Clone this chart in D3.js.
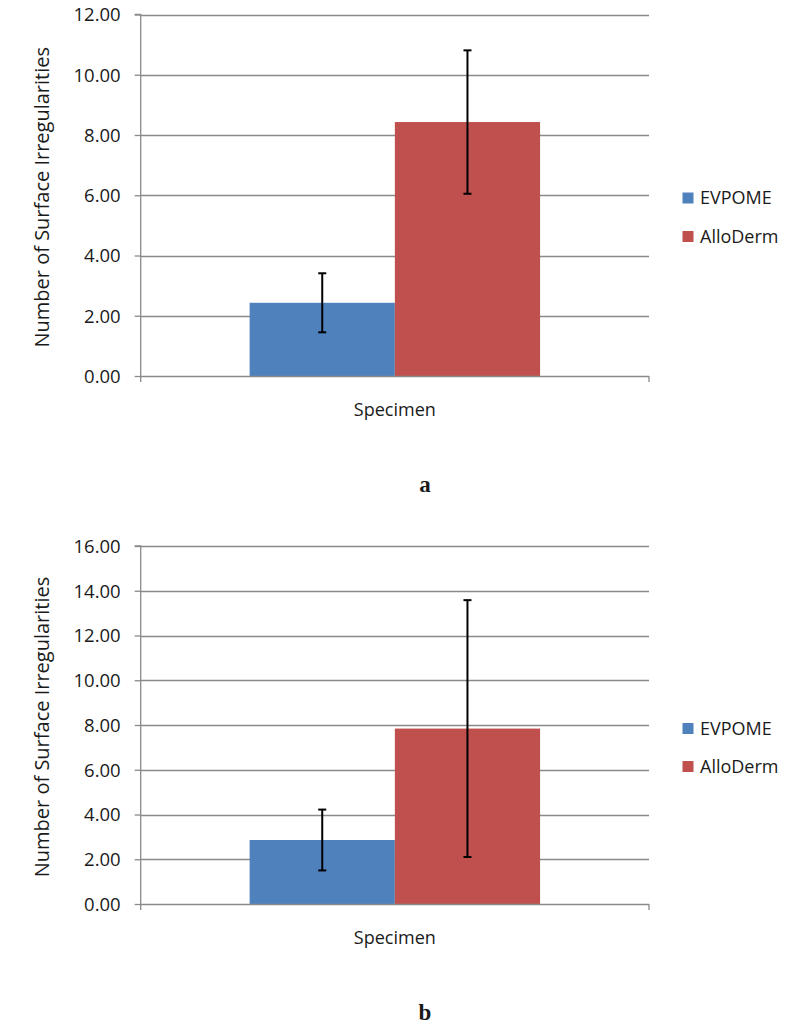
<!DOCTYPE html>
<html>
<head>
<meta charset="utf-8">
<script src="https://cdn.jsdelivr.net/npm/d3@7/dist/d3.min.js"></script>
<style>
  html, body { margin: 0; padding: 0; background: #fff; }
  svg { display: block; }
  text { font-family: "Open Sans", "Noto Sans", sans-serif; fill: #1a1a1a; }
</style>
</head>
<body>
<svg id="chart" width="787" height="1026"></svg>
<script>
// ---- data ----
const categories = ["Specimen"];
const seriesNames = ["EVPOME", "AlloDerm"];
const seriesColors = ["#4F81BD", "#C0504D"];

const panelAMeans = [2.43, 8.43];
const panelASD = [0.98, 2.38];
const panelATicks = [0, 2, 4, 6, 8, 10, 12];

const panelBMeans = [2.86, 7.84];
const panelBSD = [1.36, 5.74];
const panelBTicks = [0, 2, 4, 6, 8, 10, 12, 14, 16];

const yTitle = "Number of Surface Irregularities";
const panelLetters = ["a", "b"];

// ---- layout ----
const panels = [
  { means: panelAMeans, sd: panelASD, ticks: panelATicks, top: 14.5, bottom: 376,
    legendY: [198, 236.5], letterY: 491.5, letter: panelLetters[0] },
  { means: panelBMeans, sd: panelBSD, ticks: panelBTicks, top: 546, bottom: 904,
    legendY: [728.5, 766.5], letterY: 1019.5, letter: panelLetters[1] }
];
const left = 140.7, right = 649;
const gridColor = "#8a8a8a";

const svg = d3.select("#chart");

panels.forEach(p => {
  const g = svg.append("g");
  const maxV = p.ticks[p.ticks.length - 1];
  const y = d3.scaleLinear().domain([0, maxV]).range([p.bottom, p.top]);
  const x0 = d3.scaleBand().domain(categories).range([left, right]).padding(0);
  const x1 = d3.scaleBand().domain(seriesNames).range([0, x0.bandwidth()])
    .paddingInner(0).paddingOuter(0.75);

  // gridlines
  g.append("g").selectAll("line").data(p.ticks.filter(t => t > 0)).join("line")
    .attr("x1", left).attr("x2", right)
    .attr("y1", d => Math.round(y(d)) + 0.5).attr("y2", d => Math.round(y(d)) + 0.5)
    .attr("stroke", gridColor).attr("stroke-width", 1.3);

  // y axis
  const yAxis = d3.axisLeft(y).tickValues(p.ticks).tickFormat(d3.format(".2f"))
    .tickSize(6).tickPadding(14);
  const ya = g.append("g").attr("transform", `translate(${left},0)`).call(yAxis);
  ya.select(".domain").attr("stroke", gridColor).attr("stroke-width", 1.3)
    .attr("d", `M-6,${p.top}H0V${p.bottom + 6}`);
  ya.selectAll(".tick line").attr("stroke", gridColor).attr("stroke-width", 1.3);
  ya.selectAll(".tick text").style("font-family", '"Open Sans", sans-serif')
    .style("font-size", "18.5px").attr("fill", "#222").attr("dy", "0.34em");

  // bars
  const bars = g.append("g").selectAll("g").data(categories).join("g")
    .attr("transform", d => `translate(${x0(d)},0)`);
  bars.selectAll("rect").data(seriesNames.map((s, i) => ({ s, v: p.means[i], c: seriesColors[i] })))
    .join("rect")
    .attr("x", d => x1(d.s)).attr("width", x1.bandwidth())
    .attr("y", d => y(d.v)).attr("height", d => y(0) - y(d.v))
    .attr("fill", d => d.c);

  // x axis
  const xa = g.append("g").attr("transform", `translate(0,${p.bottom})`);
  xa.append("line").attr("x1", left).attr("x2", right).attr("y1", 0.5).attr("y2", 0.5)
    .attr("stroke", gridColor).attr("stroke-width", 1.3);
  xa.append("line").attr("x1", right).attr("x2", right).attr("y1", 0).attr("y2", 6)
    .attr("stroke", gridColor).attr("stroke-width", 1.3);
  xa.append("text").attr("x", x0(categories[0]) + x0.bandwidth() / 2).attr("y", 40)
    .attr("text-anchor", "middle").style("font-size", "18px").text(categories[0]);

  // error bars
  const eb = bars.selectAll("g.err").data(seriesNames.map((s, i) => ({ s, m: p.means[i], sd: p.sd[i] })))
    .join("g").attr("class", "err")
    .attr("transform", d => `translate(${x1(d.s) + x1.bandwidth() / 2},0)`);
  eb.append("line").attr("x1", 0).attr("x2", 0)
    .attr("y1", d => y(d.m + d.sd)).attr("y2", d => y(d.m - d.sd))
    .attr("stroke", "#000").attr("stroke-width", 2);
  eb.append("line").attr("x1", -4).attr("x2", 4)
    .attr("y1", d => y(d.m + d.sd)).attr("y2", d => y(d.m + d.sd))
    .attr("stroke", "#000").attr("stroke-width", 2);
  eb.append("line").attr("x1", -4).attr("x2", 4)
    .attr("y1", d => y(d.m - d.sd)).attr("y2", d => y(d.m - d.sd))
    .attr("stroke", "#000").attr("stroke-width", 2);

  // y title
  g.append("text")
    .attr("transform", `translate(49,${(p.top + p.bottom) / 2 + 2}) rotate(-90)`)
    .attr("text-anchor", "middle").style("font-size", "20px").text(yTitle);

  // legend
  const lg = g.append("g").selectAll("g").data(seriesNames).join("g")
    .attr("transform", (d, i) => `translate(682.5,${p.legendY[i]})`);
  lg.append("rect").attr("x", 0).attr("y", -5.5).attr("width", 11).attr("height", 11)
    .attr("fill", (d, i) => seriesColors[i]);
  lg.append("text").attr("x", 17.5).attr("y", 6.3).style("font-size", "18px").text(d => d);

  // panel letter
  g.append("text").attr("x", 425).attr("y", p.letterY).attr("text-anchor", "middle")
    .style("font-family", '"Liberation Serif", "Times New Roman", serif')
    .style("font-weight", "bold").style("font-size", "23px").attr("fill", "#000")
    .text(p.letter);
});
</script>
</body>
</html>
